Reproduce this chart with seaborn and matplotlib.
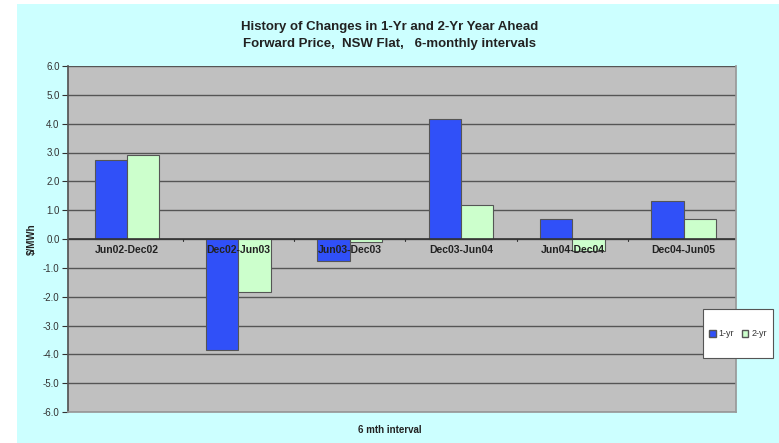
import matplotlib
matplotlib.use("Agg")
import matplotlib.pyplot as plt
import seaborn as sns
import pandas as pd
import numpy as np
from matplotlib.patches import Patch, Rectangle

categories = ["Jun02-Dec02", "Dec02-Jun03", "Jun03-Dec03", "Dec03-Jun04", "Jun04-Dec04", "Dec04-Jun05"]
one_yr = [2.75, -3.85, -0.76, 4.17, 0.70, 1.33]
two_yr = [2.92, -1.85, -0.12, 1.17, -0.40, 0.70]
series_names = ["1-yr", "2-yr"]
yticks = [6.0, 5.0, 4.0, 3.0, 2.0, 1.0, 0.0, -1.0, -2.0, -3.0, -4.0, -5.0, -6.0]

df = pd.DataFrame({
    "interval": categories * 2,
    "value": one_yr + two_yr,
    "series": [series_names[0]] * 6 + [series_names[1]] * 6,
})

sns.set_theme(style="white")
plt.rcParams['font.family'] = ['Liberation Sans', 'DejaVu Sans']

W, H = 779, 443
bg = "#CCFFFF"
fig = plt.figure(figsize=(7.79, 4.43), dpi=100, facecolor="white")
# cyan chart area with white strip on left and top
fig.patches.append(Rectangle((17/W, 0), 1 - 17/W, 1 - 4/H, transform=fig.transFigure,
                             facecolor=bg, edgecolor="none", zorder=-10))

ax = fig.add_axes([68/W, 1-412/H, (736-68)/W, (412-66)/H])
ax.set_facecolor("#C0C0C0")

colors = {"1-yr": "#3050F8", "2-yr": "#CCFFCC"}
sns.barplot(data=df, x="interval", y="value", hue="series", palette=colors, saturation=1,
            width=0.58, gap=0.0, ax=ax, edgecolor="#555555", linewidth=0.8, legend=False)

ax.set_ylim(-6, 6)
ax.set_xlim(-0.53, 5.47)
ax.set_yticks(yticks)
ax.set_yticklabels([f"{v:.1f}" for v in yticks], fontsize=7, color="#333333")
ax.yaxis.grid(True, color="#555555", linewidth=1.0)
ax.set_axisbelow(True)
ax.tick_params(axis="y", length=4, width=0.8, color="#333333", pad=2, left=True)
ax.spines["top"].set_visible(False)
ax.spines["left"].set_color("#555555")
ax.spines["right"].set_color("#999999")
ax.spines["bottom"].set_color("#999999")

# zero line and tick marks between categories
ax.axhline(0, color="#333333", linewidth=1.2, zorder=1.5)
ax.set_xticks([])
for b in np.arange(0.5, 5.5, 1.0):
    ax.plot([b, b], [0, -0.08], color="#333333", linewidth=0.8, zorder=1.6)
for i, c in enumerate(categories):
    ax.text(i, -0.2, c, ha="center", va="top", fontsize=7.5, fontweight="bold",
            color="#222222", zorder=5)

ax.set_xlabel("")
ax.set_ylabel("")
fig.text(0.5, 1-430/H, "6 mth interval", ha="center", va="center",
         fontsize=7, fontweight="bold", color="#222222")
fig.text(32/W, 1-239/H, "$/MWh", ha="center", va="center", rotation=90,
         fontsize=7, fontweight="bold", color="#222222")
fig.text(0.5, 1-27/H, "History of Changes in 1-Yr and 2-Yr Year Ahead",
         ha="center", va="center", fontsize=9.5, fontweight="bold", color="#222222")
fig.text(0.5, 1-44/H, "Forward Price,  NSW Flat,   6-monthly intervals",
         ha="center", va="center", fontsize=9.5, fontweight="bold", color="#222222")

# legend box
fig.patches.append(Rectangle((703/W, 1-358/H), 70/W, 49/H, transform=fig.transFigure,
                             facecolor="white", edgecolor="#555555", linewidth=0.8, zorder=5))
handles = [Patch(facecolor=colors[n], edgecolor="#555555", label=n) for n in series_names]
leg = fig.legend(handles=handles, loc="center", bbox_to_anchor=(738/W, 1-334/H),
                 ncol=2, fontsize=6.5, frameon=False,
                 handlelength=0.7, handleheight=0.7, handletextpad=0.3,
                 columnspacing=0.9, borderpad=0.2)
leg.set_zorder(6)
for t in leg.get_texts():
    t.set_color("#333333")

fig.savefig("out.png", dpi=100, facecolor="white")
